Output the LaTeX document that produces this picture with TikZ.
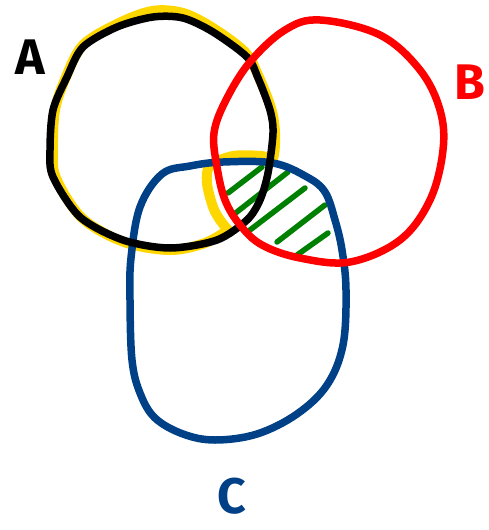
\documentclass[tikz,border=0pt]{standalone}
\usepackage{fontspec}
\setmainfont{Fira Sans}
\definecolor{cblue}{RGB}{0,64,135}
\definecolor{cyel}{RGB}{255,215,0}
\definecolor{cgreen}{RGB}{0,128,0}
\definecolor{cred}{RGB}{255,0,0}
\begin{document}
\begin{tikzpicture}[x=1pt,y=-1pt,line cap=round,line join=round,
  pen/.style={line width=7.5pt},
  hatch/.style={cgreen,line width=5.5pt},
  lab/.style={inner sep=0pt,font=\fontsize{50}{50}\selectfont\bfseries}]
\useasboundingbox (0,0) rectangle (489,530);
% yellow highlight
\draw[cyel,line width=10pt] plot[smooth,tension=0.55] coordinates {
 (228,230) (220,220) (213,207) (207,183) (210,166) (233,156) (262,156) (273,158)
 (275,133) (271,108) (258,75) (245,52) (213,28) (183,13) (152,11) (117,24)
 (83,45) (66,77) (55,110) (53,150) (56,178) (82,218) (124,242) (170,250)
 (205,243) (228,230)};
% green hatch
\draw[hatch] (228,193) -- (262,167);
\draw[hatch] (233,215) -- (288,172);
\draw[hatch] (250,230) -- (305,188);
\draw[hatch] (277,242) -- (325,205);
\draw[hatch] (297,255) -- (328,233);
% blue C
\draw[cblue,pen] plot[smooth cycle,tension=0.6] coordinates {
 (190,166) (223,162) (273,163) (307,177) (325,192) (335,220) (342,250)
 (346,290) (343,345) (327,385) (297,414) (257,434) (215,440) (183,434)
 (155,418) (140,393) (132,360) (130,300) (131,258) (140,207) (162,174)};
% black A
\draw[black,pen] plot[smooth cycle,tension=0.5] coordinates {
 (153,17) (183,18) (213,32) (247,57) (258,78) (270,110) (273,133)
 (268,173) (260,200) (247,220) (217,240) (170,248) (123,240) (80,217)
 (53,177) (50,150) (53,110) (67,77) (83,47) (117,27)};
% red B
\draw[cred,pen] plot[smooth cycle,tension=0.6] coordinates {
 (320,20) (380,35) (420,70) (440,110) (443,150) (430,200) (400,240)
 (350,262) (300,258) (262,245) (240,225) (225,200) (217,167) (214,133)
 (226,100) (250,62) (285,30)};
% labels
\node[lab,text=black] (la) at (30,57) {A};
\node[lab,text=cred] (lb) at (470,82) {B};
\node[lab,text=cblue] (lc) at (232,496) {C};
\end{tikzpicture}
\end{document}
